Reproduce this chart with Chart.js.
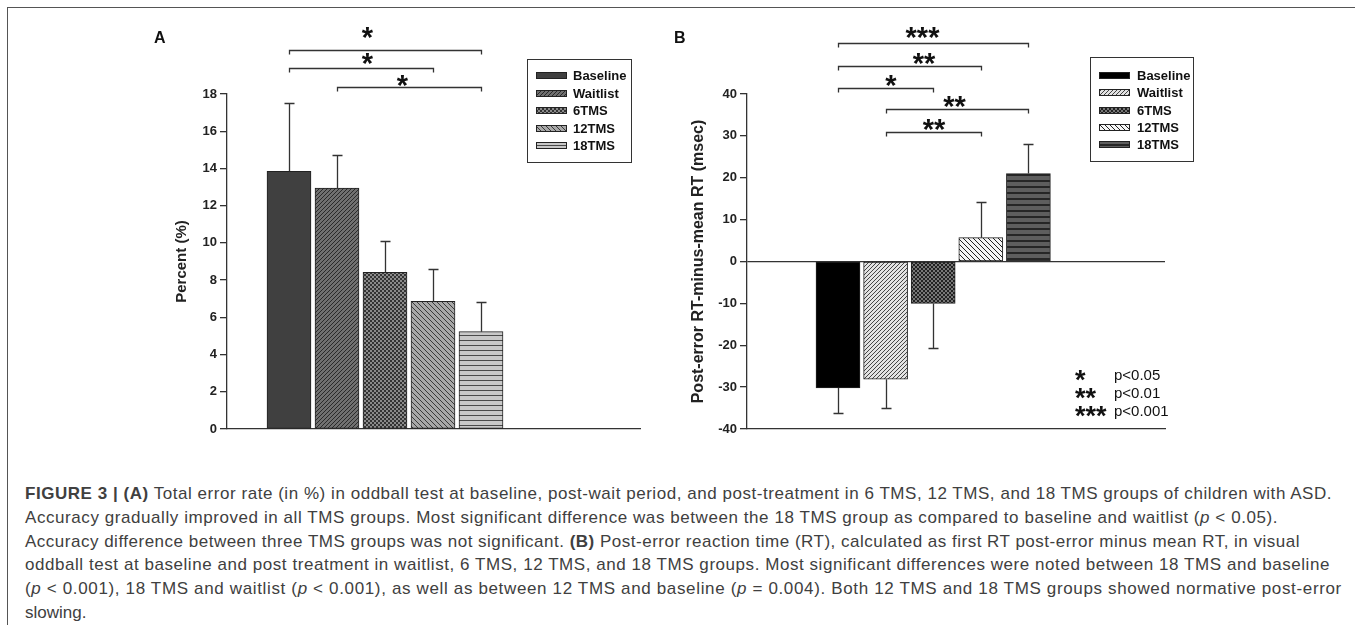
<!DOCTYPE html>
<html>
<head>
<meta charset="utf-8">
<script src="https://cdn.jsdelivr.net/npm/chart.js@4.4.1/dist/chart.umd.min.js"></script>
<style>
html, body { margin:0; padding:0; background:#fff; }
body { width:1355px; height:627px; position:relative; overflow:hidden; font-family:"Liberation Sans", Arial, sans-serif; }
#frameTop  { position:absolute; left:7px; top:7px; width:1348px; height:0; border-top:1.5px solid #555; }
#frameLeft { position:absolute; left:7px; top:7px; width:0; height:618px; border-left:1px solid #555; }
#wrapA { position:absolute; left:140px; top:0; width:520px; height:445px; }
#wrapB { position:absolute; left:655px; top:0; width:545px; height:445px; }
.caption { position:absolute; left:25px; top:482px; font-size:17px; line-height:23.8px; color:#404040; }
.caption .line { display:inline-block; white-space:nowrap; }
</style>
</head>
<body>
<div id="frameTop"></div>
<div id="frameLeft"></div>
<div id="wrapA"><canvas id="chartA" width="520" height="445"></canvas></div>
<div id="wrapB"><canvas id="chartB" width="545" height="445"></canvas></div>

<div class="caption">
  <div><span class="line"><b>FIGURE 3 | (A)</b> Total error rate (in %) in oddball test at baseline, post-wait period, and post-treatment in 6 TMS, 12 TMS, and 18 TMS groups of children with ASD.</span></div>
  <div><span class="line">Accuracy gradually improved in all TMS groups. Most significant difference was between the 18 TMS group as compared to baseline and waitlist (<i>p</i> &lt; 0.05).</span></div>
  <div><span class="line">Accuracy difference between three TMS groups was not significant. <b>(B)</b> Post-error reaction time (RT), calculated as first RT post-error minus mean RT, in visual</span></div>
  <div><span class="line">oddball test at baseline and post treatment in waitlist, 6 TMS, 12 TMS, and 18 TMS groups. Most significant differences were noted between 18 TMS and baseline</span></div>
  <div><span class="line">(<i>p</i> &lt; 0.001), 18 TMS and waitlist (<i>p</i> &lt; 0.001), as well as between 12 TMS and baseline (<i>p</i> = 0.004). Both 12 TMS and 18 TMS groups showed normative post-error</span></div>
  <div><span class="line">slowing.</span></div>
</div>

<script>
// ---- data ----
const groups      = ['Baseline', 'Waitlist', '6TMS', '12TMS', '18TMS'];

const errRateA    = [13.85, 12.95, 8.42, 6.86, 5.23];   // Percent (%)
const errRateSemA = [3.65, 1.75, 1.70, 1.75, 1.60];
const yTicksA     = [0, 2, 4, 6, 8, 10, 12, 14, 16, 18];

const postErrB    = [-30.2, -28.1, -10.0, 5.7, 21.0];   // msec
const postErrSemB = [6.0, 7.0, 10.7, 8.5, 7.1];
const yTicksB     = [-40, -30, -20, -10, 0, 10, 20, 30, 40];

const sigA = [[0, 4, '*'], [0, 3, '*'], [1, 4, '*']];
const sigB = [[0, 4, '***'], [0, 3, '**'], [0, 2, '*'], [1, 4, '**'], [1, 3, '**']];
const pLegend = [['*', 'p<0.05'], ['**', 'p<0.01'], ['***', 'p<0.001']];

// ---- styles / layout ----
const FONT = '"Liberation Sans", Arial, sans-serif';
Chart.defaults.font.family = FONT;
Chart.defaults.color = '#222';

const sigLayoutA = [{y:50, ty:32, dx:-18}, {y:68, ty:58, dx:6}, {y:87, ty:80, dx:-7}];
const sigLayoutB = [{y:43, ty:32, dx:-11}, {y:66, ty:58, dx:14}, {y:88, ty:80, dx:5},
                    {y:109, ty:101, dx:-3}, {y:132, ty:124, dx:0}];
const captionWidths = [1307, 1253, 1275, 1305, 1317, null];


function hatch(bg, fg, kind, size, lw){
      if(kind === 'solid'){ return bg }
      const c = document.createElement('canvas')
      c.width = size; c.height = size
      const g = c.getContext('2d')
      g.fillStyle = bg; g.fillRect(0, 0, size, size)
      g.fillStyle = fg; g.strokeStyle = fg; g.lineWidth = lw || 1
      if(kind === '/'){
            g.beginPath()
            for(const k of [-size, 0, size]){ g.moveTo(k, size); g.lineTo(k + size, 0) }
            g.stroke()
      }
      if(kind === '\\'){
            g.beginPath()
            for(const k of [-size, 0, size]){ g.moveTo(k, 0); g.lineTo(k + size, size) }
            g.stroke()
      }
      if(kind === '-'){ g.fillRect(0, 0, size, lw) }
      if(kind === 'x'){ g.fillRect(0, 0, size/2, size/2); g.fillRect(size/2, size/2, size/2, size/2) }
      return g.createPattern(c, 'repeat')
}

const fillsA = [
      hatch('#404040', null, 'solid'),
      hatch('#707070', '#2a2a2a', '/', 4),
      hatch('#333333', '#8a8a8a', 'x', 4),
      hatch('#a8a8a8', '#3a3a3a', '\\', 5),
      hatch('#c8c8c8', '#4a4a4a', '-', 5, 1),
]
const fillsB = [
      hatch('#000000', null, 'solid'),
      hatch('#e2e2e2', '#444444', '/', 4),
      hatch('#222222', '#777777', 'x', 4),
      hatch('#f6f6f6', '#222222', '\\', 5),
      hatch('#5e5e5e', '#262626', '-', 6, 2),
]


function buildSets(values, sems, fills){
      return groups.map((g, i) => ({
            label: g,
            data: [{ x: i + 1, y: values[i] }],
            err: sems[i],
            backgroundColor: fills[i],
            borderColor: '#222',
            borderWidth: 1,
            borderSkipped: false,
            barThickness: 44,
            grouped: false,
      }))
}


// error bars, brackets, boxed legend, panel letter
const annotations = {
      id: 'annotations',
      afterDatasetsDraw(chart, args, o){
            const { ctx, scales: { x, y } } = chart
            ctx.save()
            ctx.strokeStyle = '#333'; ctx.lineWidth = 1.3
            chart.data.datasets.forEach(ds => {
                  const p = ds.data[0]
                  const dir = p.y < 0 ? -1 : 1
                  const px = Math.round(x.getPixelForValue(p.x)) + 0.5
                  const y0 = y.getPixelForValue(p.y)
                  const y1 = Math.round(y.getPixelForValue(p.y + dir * ds.err)) + 0.5
                  ctx.beginPath()
                  ctx.moveTo(px, y0); ctx.lineTo(px, y1)
                  ctx.moveTo(px - 5, y1); ctx.lineTo(px + 5, y1)
                  ctx.stroke()
            })
            ctx.restore()
      },
      afterDraw(chart, args, o){
            const { ctx, scales: { x } } = chart
            const xs = chart.data.datasets.map(ds => x.getPixelForValue(ds.data[0].x))
            ctx.save()

            // significance brackets
            ctx.strokeStyle = '#333'; ctx.lineWidth = 1.3
            ctx.fillStyle = '#111'
            ctx.font = 'bold 29px ' + FONT
            ctx.textAlign = 'center'; ctx.textBaseline = 'alphabetic'
            o.sig.forEach((s, i) => {
                  const L = o.sigLayout[i]
                  const a = Math.round(xs[s[0]]) + 0.5, b = Math.round(xs[s[1]]) + 0.5, yy = L.y + 0.5
                  ctx.beginPath()
                  ctx.moveTo(a, yy + 4); ctx.lineTo(a, yy); ctx.lineTo(b, yy); ctx.lineTo(b, yy + 4)
                  ctx.stroke()
                  ctx.fillText(s[2], (a + b) / 2 + L.dx, L.ty + 15)
            })

            // boxed legend
            const lg = o.legend
            ctx.lineWidth = 1; ctx.strokeStyle = '#333'
            ctx.strokeRect(lg.x + 0.5, lg.y + 0.5, lg.w, lg.h)
            ctx.font = 'bold 13px ' + FONT
            ctx.textAlign = 'left'; ctx.textBaseline = 'middle'
            chart.data.datasets.forEach((ds, i) => {
                  const cy = Math.round(lg.y0 + i * lg.dy)
                  ctx.fillStyle = ds.backgroundColor
                  ctx.fillRect(lg.sx, cy - 3, 31, 7)
                  ctx.strokeStyle = '#222'
                  ctx.strokeRect(lg.sx + 0.5, cy - 3 + 0.5, 30, 6)
                  ctx.fillStyle = '#111'
                  ctx.fillText(ds.label, lg.tx, cy + 1)
            })

            // p-value key
            if(o.pKey){
                  const k = o.pKey
                  pLegend.forEach((p, i) => {
                        const cy = k.y0 + i * k.dy
                        ctx.font = 'bold 27px ' + FONT
                        ctx.textBaseline = 'alphabetic'
                        ctx.fillText(p[0], k.sx, cy + 14)
                        ctx.font = '15px ' + FONT
                        ctx.textBaseline = 'middle'
                        ctx.fillText(p[1], k.tx, cy + 1)
                  })
            }

            // panel letter
            ctx.font = 'bold 16px ' + FONT
            ctx.textBaseline = 'alphabetic'; ctx.textAlign = 'left'
            ctx.fillText(o.letter.text, o.letter.x, o.letter.y)
            ctx.restore()
      }
}


function makeChart(id, cfg){
      return new Chart(document.getElementById(id), {
            type: 'bar',
            data: { datasets: buildSets(cfg.values, cfg.sems, cfg.fills) },
            options: {
                  responsive: false,
                  animation: false,
                  devicePixelRatio: 1,
                  layout: { padding: { top: 94, bottom: 16, left: 0, right: cfg.padRight } },
                  plugins: {
                        legend: { display: false },
                        tooltip: { enabled: false },
                        annotations: cfg.annot,
                  },
                  scales: {
                        x: {
                              type: 'linear',
                              offset: false,
                              min: cfg.xMin, max: cfg.xMax,
                              ticks: { display: false },
                              grid: { display: false, drawTicks: false },
                              border: { display: true, color: '#333', width: 1.3 },
                              afterFit: s => { s.height = 0 },
                        },
                        y: {
                              min: cfg.yTicks[0], max: cfg.yTicks[cfg.yTicks.length - 1],
                              afterBuildTicks: s => { s.ticks = cfg.yTicks.map(v => ({ value: v })) },
                              afterFit: s => { s.width = cfg.yWidth },
                              ticks: { padding: 3, color: '#222', font: { size: 13, weight: 'bold' } },
                              grid: {
                                    drawOnChartArea: cfg.zeroLine,
                                    color: c => (c.tick && c.tick.value === 0) ? '#333' : 'rgba(0,0,0,0)',
                                    lineWidth: 1.3,
                                    tickColor: '#333',
                                    tickLength: 7,
                              },
                              border: { display: true, color: '#333', width: 1.3 },
                              title: {
                                    display: true, text: cfg.yTitle, color: '#222',
                                    font: { size: cfg.titleSize, weight: 'bold' },
                                    padding: { top: cfg.titlePad, bottom: 0 },
                              },
                        },
                  },
            },
            plugins: [annotations],
      })
}


// panel A : canvas origin at page x=140
makeChart('chartA', {
      values: errRateA, sems: errRateSemA, fills: fillsA, yTicks: yTicksA,
      yTitle: 'Percent (%)', yWidth: 87, titlePad: 33, titleSize: 15, zeroLine: false,
      xMin: 1 - 62 / 48, xMax: 1 - 62 / 48 + 413 / 48, padRight: 20,
      annot: {
            sig: sigA, sigLayout: sigLayoutA,
            legend: { x: 387, y: 59, w: 104, h: 103, y0: 75, dy: 17.5, sx: 396, tx: 433 },
            letter: { text: 'A', x: 14, y: 43 },
      },
})

// panel B : canvas origin at page x=655
makeChart('chartB', {
      values: postErrB, sems: postErrSemB, fills: fillsB, yTicks: yTicksB,
      yTitle: 'Post-error RT-minus-mean RT (msec)', yWidth: 92, titlePad: 34, titleSize: 16, zeroLine: true,
      xMin: 1 - 91 / 47.6, xMax: 1 - 91 / 47.6 + 418 / 47.6, padRight: 35,
      annot: {
            sig: sigB, sigLayout: sigLayoutB,
            legend: { x: 435, y: 57, w: 103, h: 104, y0: 75, dy: 17.3, sx: 444, tx: 482 },
            pKey: { sx: 420, tx: 459, y0: 375, dy: 18 },
            letter: { text: 'B', x: 19, y: 43 },
      },
})


// stretch caption lines to the widths of the original layout
document.querySelectorAll('.caption .line').forEach((el, i) => {
      const w = captionWidths[i]
      if(!w){ return }
      const nat = el.getBoundingClientRect().width
      el.style.letterSpacing = ((w - nat) / el.textContent.length).toFixed(3) + 'px'
})
</script>
</body>
</html>
